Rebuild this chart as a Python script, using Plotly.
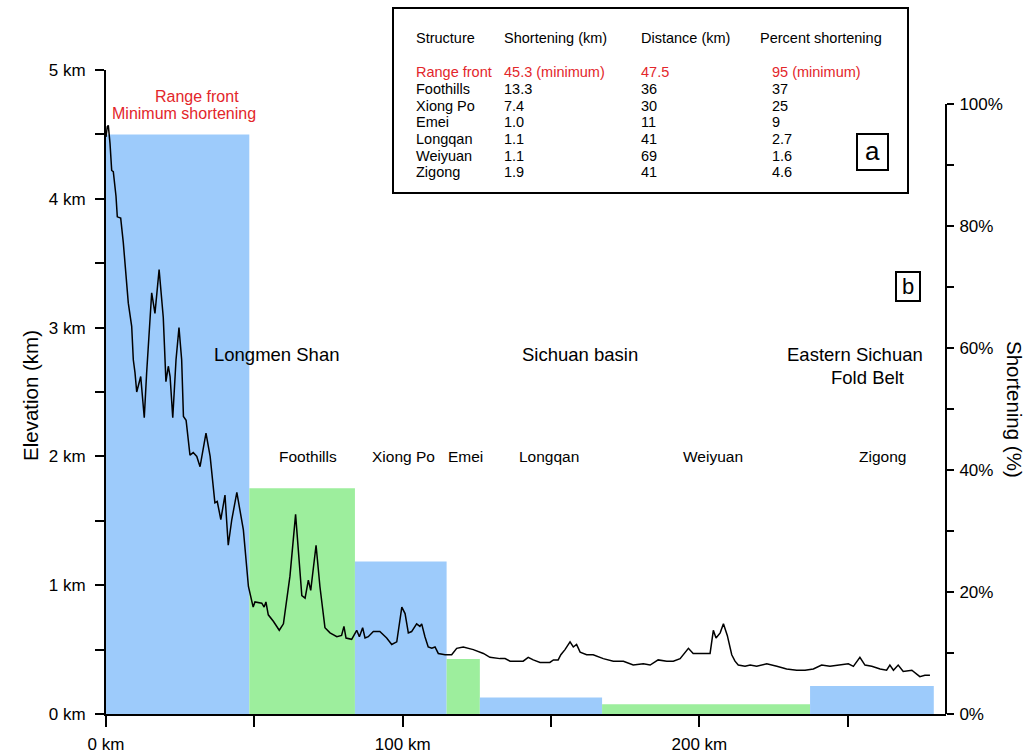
import plotly.graph_objects as go

# ---------------- data ----------------
# Elevation profile: distance along section (km) and elevation (km)
profile_km = [0, 0.44, 0.78, 1.35, 1.92, 2.46, 3.37, 3.81, 4.95, 5.83, 7.52, 8.66, 9.2, 9.77,
              10.35, 11.7, 12.9, 13.7, 15.4, 16.5, 17.9, 19.3, 19.7, 20.2, 21.0, 21.6, 22.5,
              23.6, 24.6, 25.5, 26.1, 27.0, 28.3, 29.4, 30.6, 31.7, 33.7, 35.1, 36.7, 37.5,
              38.7, 40.1, 41.2, 42.4, 44.1, 46.3, 48.0, 49.6, 50.2, 52.5, 53.3, 53.9, 54.7,
              56.4, 58.4, 59.8, 62.0, 63.9, 66.0, 67.1, 68.2, 69.0, 70.8, 72.1, 73.8, 75.5,
              77.8, 79.4, 80.2, 80.9, 82.8, 84.5, 85.4, 86.5, 87.3, 88.4, 90.1, 92.3, 94.6,
              96.3, 98.0, 99.7, 100.8, 101.9, 103.0, 104.7, 105.8, 106.4, 107.5, 108.6, 109.8,
              110.9, 112.0, 114.3, 116.5, 118.2, 120.4, 123.8, 127.2, 129.4, 132.8, 134.5,
              136.2, 138.4, 140.6, 142.3, 144.0, 146.3, 149.6, 150.8, 152.4, 153.3, 154.7,
              156.4, 157.5, 158.6, 159.8, 162.0, 164.2, 167.6, 171.0, 174.4, 177.7, 181.1,
              183.4, 186.1, 189.0, 191.2, 193.5, 196.3, 197.9, 200.2, 203.6, 204.7, 205.6,
              207.0, 208.1, 209.4, 210.9, 212.0, 213.1, 215.4, 217.1, 219.3, 222.7, 226.1,
              229.4, 232.8, 235.6, 238.4, 241.2, 244.0, 247.4, 250.2, 251.9, 254.1, 255.8,
              258.1, 260.9, 263.1, 264.2, 265.4, 267.0, 268.7, 271.6, 273.2, 274.3, 276.0, 277.7]
profile_elev = [4.48, 4.56, 4.57, 4.43, 4.22, 4.21, 4.02, 3.86, 3.85, 3.66, 3.19, 3.01, 2.75, 2.65,
                2.50, 2.62, 2.30, 2.65, 3.27, 3.11, 3.45, 3.08, 2.86, 2.58, 2.70, 2.62, 2.30,
                2.75, 3.00, 2.75, 2.31, 2.28, 2.01, 2.03, 2.00, 1.92, 2.18, 2.00, 1.64, 1.65,
                1.51, 1.70, 1.31, 1.51, 1.72, 1.43, 0.99, 0.83, 0.87, 0.86, 0.83, 0.87, 0.77,
                0.72, 0.65, 0.70, 1.07, 1.55, 0.92, 0.90, 1.04, 0.96, 1.31, 0.99, 0.67, 0.63,
                0.60, 0.61, 0.68, 0.59, 0.58, 0.65, 0.60, 0.67, 0.59, 0.60, 0.64, 0.64, 0.59,
                0.54, 0.56, 0.83, 0.78, 0.63, 0.64, 0.70, 0.68, 0.70, 0.60, 0.52, 0.51,
                0.52, 0.47, 0.46, 0.46, 0.51, 0.52, 0.50, 0.47, 0.44, 0.43, 0.43,
                0.41, 0.41, 0.41, 0.44, 0.42, 0.40, 0.40, 0.42, 0.42, 0.46, 0.50,
                0.56, 0.52, 0.54, 0.48, 0.46, 0.46, 0.43, 0.41, 0.41, 0.38, 0.39,
                0.38, 0.42, 0.41, 0.41, 0.43, 0.51, 0.47, 0.47, 0.47, 0.65, 0.59,
                0.63, 0.70, 0.61, 0.46, 0.41, 0.38, 0.37, 0.38, 0.37, 0.39, 0.37,
                0.35, 0.34, 0.34, 0.35, 0.38, 0.37, 0.38, 0.39, 0.37, 0.44, 0.38,
                0.37, 0.35, 0.34, 0.38, 0.34, 0.38, 0.33, 0.34, 0.31, 0.29, 0.30, 0.30]

# Structures (table a) and shortening bars (b)
structures = ["Range front", "Foothills", "Xiong Po", "Emei", "Longqan", "Weiyuan", "Zigong"]
shortening_txt = ["45.3 (minimum)", "13.3", "7.4", "1.0", "1.1", "1.1", "1.9"]
distance_txt = ["47.5", "36", "30", "11", "41", "69", "41"]
percent_txt = ["95 (minimum)", "37", "25", "9", "2.7", "1.6", "4.6"]
percent_vals = [95, 37, 25, 9, 2.7, 1.6, 4.6]
bar_edges_km = [0, 48.3, 83.9, 114.8, 126.0, 167.2, 237.3, 279.0]

x_tick_vals = [0, 50, 100, 150, 200, 250]
x_tick_text = ["0 km", "", "100 km", "", "200 km", ""]
elev_tick_vals = [0, 0.5, 1, 1.5, 2, 2.5, 3, 3.5, 4, 4.5, 5]
elev_tick_text = ["0 km", "", "1 km", "", "2 km", "", "3 km", "", "4 km", "", "5 km"]
pct_tick_vals = [0, 10, 20, 30, 40, 50, 60, 70, 80, 90, 100]
pct_tick_text = ["0%", "", "20%", "", "40%", "", "60%", "", "80%", "", "100%"]

# ---------------- styling / layout ----------------
FONT = "Liberation Sans, Arial, Helvetica, sans-serif"
BLUE = "#9DCBFB"
GREEN = "#9DEE9D"
RED = "#E3262B"
W, H = 1032, 754
L, R, T, B = 106, 86, 70, 40
PW, PH = W - L - R, H - T - B
KM_PER_PX = 1 / 2.967


def px(xp):
    return (xp - L) / PW


def py(yp):
    return (H - B - yp) / PH


bar_colors = [BLUE if i % 2 == 0 else GREEN for i in range(len(percent_vals))]
centers = [(bar_edges_km[i] + bar_edges_km[i + 1]) / 2 for i in range(len(percent_vals))]
widths = [bar_edges_km[i + 1] - bar_edges_km[i] for i in range(len(percent_vals))]

fig = go.Figure()
fig.add_trace(go.Bar(x=centers, y=percent_vals, width=widths, marker_color=bar_colors,
                     marker_line_width=0, xaxis="x", yaxis="y", hoverinfo="skip",
                     showlegend=False))
fig.add_trace(go.Scatter(x=profile_km, y=profile_elev, mode="lines",
                         line=dict(color="black", width=1.5), xaxis="x", yaxis="y2",
                         showlegend=False))

annotations = []


def ann(text, xp, yp, size, color="black", xanchor="center", angle=0):
    annotations.append(dict(text=text, x=px(xp), y=py(yp), xref="paper", yref="paper",
                            xanchor=xanchor, yanchor="middle", showarrow=False,
                            textangle=angle, font=dict(family=FONT, size=size, color=color)))


# axis titles
ann("Elevation (km)", 30, 396, 20.5, angle=-90)
ann("Shortening (%)", 1015, 410, 20.5, angle=90)

# red range front label
ann("Range front", 197, 96, 16, RED)
ann("Minimum shortening", 184, 113, 16, RED)

# region labels
ann("Longmen Shan", 277, 354, 18.5)
ann("Sichuan basin", 580, 354, 18.5)
ann("Eastern Sichuan", 855, 354, 18.5)
ann("Fold Belt", 867, 377, 18.5)

# structure labels
struct_label_x = [308, 403, 465, 549, 713, 882]
for name, xp in zip(structures[1:], struct_label_x):
    ann(name, xp, 456, 15.5)

# table a
tsize = 14.5
ann("Structure", 414, 38, tsize, xanchor="left")
ann("Shortening (km)", 502, 38, tsize, xanchor="left")
ann("Distance (km)", 639, 38, tsize, xanchor="left")
ann("Percent shortening", 758, 38, tsize, xanchor="left")
row_y = [72, 89, 106, 122, 139, 156, 172]
for i in range(len(structures)):
    c = RED if i == 0 else "black"
    ann(structures[i], 414, row_y[i], tsize, c, "left")
    ann(shortening_txt[i], 502, row_y[i], tsize, c, "left")
    ann(distance_txt[i], 639, row_y[i], tsize, c, "left")
    ann(percent_txt[i], 770, row_y[i], tsize, c, "left")

ann("a", 872, 151, 26)
ann("b", 908, 286, 22)

shapes = [
    # right axis line (0-100 %)
    dict(type="line", xref="paper", yref="y", x0=1, x1=1, y0=0, y1=100,
         line=dict(color="black", width=2)),
    # table box
    dict(type="rect", xref="paper", yref="paper", x0=px(393), x1=px(908), y0=py(193), y1=py(8),
         line=dict(color="black", width=2)),
    dict(type="rect", xref="paper", yref="paper", x0=px(857), x1=px(888), y0=py(170), y1=py(134),
         line=dict(color="black", width=2)),
    dict(type="rect", xref="paper", yref="paper", x0=px(896), x1=px(920), y0=py(301), y1=py(272),
         line=dict(color="black", width=2)),
]

fig.update_layout(
    template="none",
    width=W, height=H, autosize=False,
    margin=dict(l=L, r=R, t=T, b=B, pad=0, autoexpand=False),
    paper_bgcolor="white", plot_bgcolor="white",
    font=dict(family=FONT, color="black"),
    showlegend=False,
    xaxis=dict(range=[0, PW * KM_PER_PX], tickvals=x_tick_vals, ticktext=x_tick_text,
               ticks="outside", ticklen=11, tickwidth=1.5, tickcolor="black",
               showline=True, linewidth=2, linecolor="black", showgrid=False, zeroline=False,
               tickfont=dict(size=17, family=FONT), ticklabelstandoff=3, automargin=False),
    yaxis=dict(side="right", anchor="x", range=[0, PH / 6.1], tickvals=pct_tick_vals,
               ticktext=pct_tick_text, ticks="outside", ticklen=7, tickwidth=1.5,
               tickcolor="black", showline=False, showgrid=False, zeroline=False,
               tickfont=dict(size=17, family=FONT), ticklabelstandoff=2, automargin=False),
    yaxis2=dict(overlaying="y", side="left", anchor="x", range=[0, 5], tickvals=elev_tick_vals,
                ticktext=elev_tick_text, ticks="outside", ticklen=9, tickwidth=1.5,
                tickcolor="black", showline=True, linewidth=2, linecolor="black",
                showgrid=False, zeroline=False, tickfont=dict(size=17, family=FONT),
                ticklabelstandoff=6, automargin=False),
    annotations=annotations,
    shapes=shapes,
)

fig.write_html("out.html", config={"displayModeBar": False},
               post_script="document.body.style.margin='0px';document.body.style.overflow='hidden';")
